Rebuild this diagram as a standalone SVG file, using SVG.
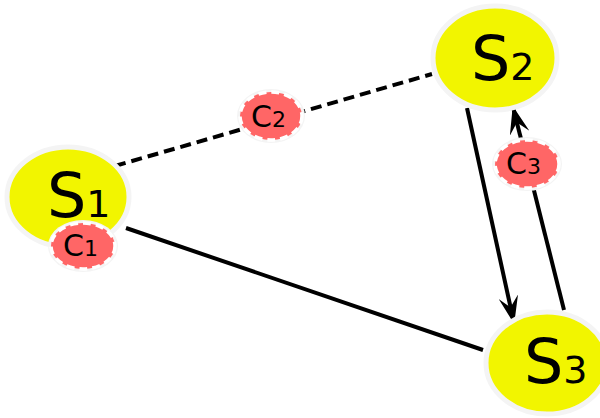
<svg xmlns="http://www.w3.org/2000/svg" width="600" height="418" viewBox="0 0 600 418">
<style>
.s{fill:#f2f500;stroke:#f4f4f4;stroke-width:5}
.h{fill:#f4f4f4}
.c{fill:#ff6666;stroke:#ffffff;stroke-width:3.5;stroke-dasharray:8,5}
.big{font-family:"DejaVu Sans",sans-serif;font-size:62px;fill:#000}
.sub{font-family:"DejaVu Sans",sans-serif;font-size:38px;fill:#000}
.cb{font-family:"DejaVu Sans",sans-serif;font-size:30px;fill:#000}
.cs{font-family:"DejaVu Sans",sans-serif;font-size:22px;fill:#000}
.e{stroke:#000;stroke-width:4;fill:none}
</style>
<defs>
<marker id="arr" viewBox="0 0 28 20" refX="27" refY="10" markerWidth="28" markerHeight="20" markerUnits="userSpaceOnUse" orient="auto">
<path d="M0,0 L28,10 L0,20 L11,10 Z" fill="#000"/>
</marker>
</defs>
<rect width="600" height="418" fill="#fff"/>
<g id="connectors">
<line class="e" x1="115" y1="166" x2="432" y2="74" stroke-width="4.5" stroke-dasharray="11,6"/>
<line class="e" x1="126" y1="228" x2="483" y2="350"/>
<line class="e" x1="467" y1="108" x2="514" y2="323" marker-end="url(#arr)"/>
<line class="e" x1="564" y1="310" x2="513" y2="107" marker-end="url(#arr)"/>
</g>
<g id="S1">
<ellipse class="s" cx="68" cy="197" rx="61" ry="50"/>
<text x="47" y="217"><tspan class="big">S</tspan><tspan class="sub">1</tspan></text>
</g>
<g id="S2">
<ellipse class="s" cx="495" cy="58" rx="62" ry="52"/>
<text x="471" y="80"><tspan class="big">S</tspan><tspan class="sub">2</tspan></text>
</g>
<g id="S3">
<ellipse class="s" cx="547" cy="363" rx="61" ry="51"/>
<text x="524" y="383"><tspan class="big">S</tspan><tspan class="sub">3</tspan></text>
</g>
<g id="C1">
<ellipse class="h" cx="83" cy="246" rx="35" ry="26"/>
<ellipse class="c" cx="83" cy="246" rx="32" ry="23"/>
<text x="63" y="256"><tspan class="cb">C</tspan><tspan class="cs">1</tspan></text>
</g>
<g id="C2">
<ellipse class="h" cx="271" cy="116" rx="34" ry="27"/>
<ellipse class="c" cx="271" cy="116" rx="31" ry="24"/>
<text x="251" y="127"><tspan class="cb">C</tspan><tspan class="cs">2</tspan></text>
</g>
<g id="C3">
<ellipse class="h" cx="527" cy="164" rx="35" ry="27"/>
<ellipse class="c" cx="527" cy="164" rx="32" ry="24"/>
<text x="506" y="174"><tspan class="cb">C</tspan><tspan class="cs">3</tspan></text>
</g>
</svg>
